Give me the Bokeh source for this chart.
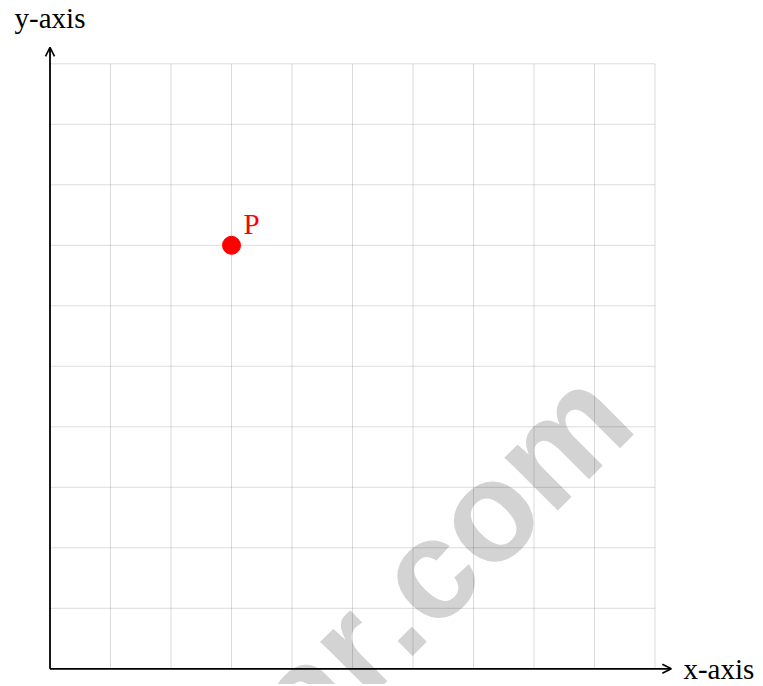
import math
from bokeh.plotting import figure
from bokeh.models import Range1d, Arrow, OpenHead
from bokeh.core.properties import value
from bokeh.embed import file_html
from bokeh.resources import INLINE

# ---- data ----
grid_ticks = [0, 1, 2, 3, 4, 5, 6, 7, 8, 9, 10]
grid_min, grid_max = 0, 10
axis_end = 10.27
point_x = [3]
point_y = [7]
point_label = ["P"]
x_label = "x-axis"
y_label = "y-axis"
watermark_left = "ar"
watermark_right = ".com"

# ---- geometry ----
W, H = 760, 684
scale = 60.5
ox, oy = 49.5, 668.3  # canvas px of data origin

p = figure(width=W, height=H, output_backend="svg", toolbar_location=None,
           x_axis_type=None, y_axis_type=None, min_border=0,
           x_range=Range1d(-ox / scale, (W - ox) / scale),
           y_range=Range1d(-(H - oy) / scale, oy / scale))
p.outline_line_color = None
p.background_fill_color = "white"
p.border_fill_color = "white"
p.xgrid.visible = False
p.ygrid.visible = False

# watermark (under the grid)
wm_x, wm_y = 5.30, 0.68
for txt, align in ((watermark_right, "left"), (watermark_left, "right")):
    p.text(x=[wm_x], y=[wm_y], text=[txt], angle=math.pi / 4,
           text_font=value("Liberation Sans"), text_font_style="bold",
           text_font_size="142px", text_color="#d3d3d3",
           text_align=align, text_baseline="alphabetic")

# grid
p.segment(x0=grid_ticks, y0=[grid_min] * len(grid_ticks),
          x1=grid_ticks, y1=[grid_max] * len(grid_ticks),
          line_color="black", line_alpha=0.14, line_width=1)
p.segment(x0=[grid_min] * len(grid_ticks), y0=grid_ticks,
          x1=[grid_max] * len(grid_ticks), y1=grid_ticks,
          line_color="black", line_alpha=0.14, line_width=1)

# axes with arrows
p.add_layout(Arrow(end=OpenHead(size=9, line_width=1.6, line_color="black"),
                   x_start=0, y_start=0, x_end=axis_end, y_end=0,
                   line_width=1.8, line_color="black"))
p.add_layout(Arrow(end=OpenHead(size=9, line_width=1.6, line_color="black"),
                   x_start=0, y_start=0, x_end=0, y_end=axis_end,
                   line_width=1.8, line_color="black"))

# axis labels
p.text(x=[10.47], y=[0], text=[x_label], text_font=value("Liberation Serif"),
       text_font_size="29px", text_color="black",
       text_align="left", text_baseline="middle")
p.text(x=[0], y=[10.75], text=[y_label], text_font=value("Liberation Serif"),
       text_font_size="29px", text_color="black",
       text_align="center", text_baseline="alphabetic")

# point
p.scatter(x=point_x, y=point_y, size=18, color="red", line_color="red")
p.text(x=[v + 0.2 for v in point_x], y=[v + 0.36 for v in point_y], text=point_label,
       text_font=value("Liberation Serif"), text_font_size="29px",
       text_color="red", text_align="left", text_baseline="alphabetic")

open("out.html", "w").write(file_html(p, INLINE))
